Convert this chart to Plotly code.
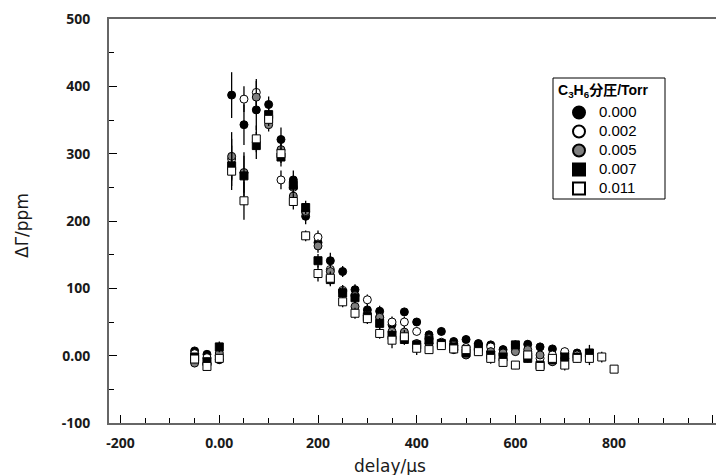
import plotly.graph_objects as go

# ---- data ----
delay_a = [-50, -25, 0, 25, 50, 75, 100, 125, 150, 175, 200, 225, 250, 275, 300, 325,
           350, 375, 400, 425, 450, 475, 500, 525, 550, 575, 600, 625, 650, 675, 700, 725]
delay_sq1 = delay_a + [750]
delay_sq2 = delay_a + [750, 775, 800]

p000 = [7, 2, -6, 387, 343, 365, 373, 321, 261, 207, 168, 141, 125, 98, 68, 66,
        46, 65, 50, 31, 36, 21, 24, 18, 16, 9, 16, 17, 13, 10, 4, 4]
e000 = [6, 6, 6, 34, 30, 30, 12, 18, 14, 12, 10, 12, 8, 8, 8, 8,
        8, 6, 6, 6, 6, 6, 6, 6, 6, 6, 6, 6, 6, 6, 6, 6]
p002 = [3, -3, 0, 292, 381, 391, 350, 261, 250, 213, 176, 128, 97, 89, 83, 57,
        50, 50, 36, 25, 20, 15, 12, 10, 13, 1, 9, 3, -4, 1, 6, 1]
e002 = [6, 6, 6, 30, 19, 20, 10, 14, 12, 10, 10, 10, 8, 8, 8, 8,
        8, 8, 6, 6, 6, 6, 6, 6, 6, 6, 6, 6, 6, 6, 6, 6]
p005 = [-11, -12, 4, 296, 272, 384, 343, 306, 237, 214, 163, 125, 95, 73, 60, 57,
        36, 35, 18, 18, 18, 9, 1, 9, 6, 4, 6, 9, 1, -9, -4, -2]
e005 = [6, 6, 8, 36, 30, 24, 10, 14, 14, 10, 10, 10, 8, 8, 8, 8,
        8, 8, 6, 6, 6, 6, 6, 6, 6, 6, 6, 6, 6, 6, 6, 6]
p007 = [-2, -9, 13, 282, 267, 312, 358, 295, 253, 220, 141, 113, 93, 86, 58, 48,
        30, 24, 16, 23, 18, 13, 4, 13, 1, -2, 16, -4, -14, -6, -2, -2, 4]
e007 = [6, 6, 8, 30, 30, 20, 10, 14, 12, 10, 10, 10, 8, 8, 8, 8,
        8, 8, 6, 6, 6, 6, 6, 6, 6, 6, 6, 6, 6, 6, 6, 6, 12]
p011 = [-5, -16, -4, 274, 230, 322, 351, 300, 229, 178, 122, 115, 80, 63, 55, 33,
        23, 28, 11, 9, 15, 10, 9, 6, -4, -10, -14, 1, -16, -4, -14, -4, -4, -2, -20]
e011 = [6, 6, 6, 28, 28, 20, 10, 14, 12, 8, 12, 10, 8, 8, 8, 8,
        12, 10, 10, 6, 6, 6, 6, 6, 8, 6, 6, 6, 6, 6, 8, 6, 10, 8, 4]

series_names = ["0.000", "0.002", "0.005", "0.007", "0.011"]
legend_title = "C<sub>3</sub>H<sub>6</sub>分圧/Torr"

x_tickvals = [-200, 0, 200, 400, 600, 800, 1000]
x_ticktext = ["-200", "0.00", "200", "400", "600", "800", "1000"]
y_tickvals = [-100, 0, 100, 200, 300, 400, 500]
y_ticktext = ["-100", "0.00", "100", "200", "300", "400", "500"]

# ---- layout helpers (screen pixels of the plot area; page body has an 8px margin) ----
PL, PR, PT, PB = 109, 724, 19, 423
def px(xp):
    return (xp - PL) / (PR - PL)
def py(yp):
    return (PB - yp) / (PB - PT)

styles = [
    dict(symbol="circle", color="black", line=dict(color="black", width=1)),
    dict(symbol="circle", color="white", line=dict(color="black", width=1)),
    dict(symbol="circle", color="#808080", line=dict(color="black", width=1)),
    dict(symbol="square", color="black", line=dict(color="black", width=1)),
    dict(symbol="square", color="white", line=dict(color="black", width=1)),
]
xs = [delay_a, delay_a, delay_a, delay_sq1, delay_sq2]
ys = [p000, p002, p005, p007, p011]
es = [e000, e002, e005, e007, e011]

fig = go.Figure()
for name, x, y, e, st in zip(series_names, xs, ys, es, styles):
    fig.add_trace(go.Scatter(
        x=x, y=y, mode="markers",
        name='<span style="font-size:15px">' + name + "</span>",
        marker=dict(size=8, **st),
        error_y=dict(type="data", array=e, visible=True, color="black",
                     thickness=1.3, width=0),
    ))

tickfont = dict(family="Noto Sans", size=14, color="#1a1a1a", weight="bold")

fig.update_layout(
    width=716, height=467,
    margin=dict(l=PL - 8, r=0, t=PT - 8, b=467 - (PB - 8)),
    paper_bgcolor="white", plot_bgcolor="white",
    showlegend=True,
    legend=dict(
        x=px(559), y=py(98), xanchor="left", yanchor="top",
        bgcolor="rgba(0,0,0,0)", borderwidth=0,
        font=dict(family="Liberation Sans", size=12, color="black"),
        itemsizing="constant", tracegroupgap=0,
    ),
    xaxis=dict(
        range=[-223.5, 1022.7], showgrid=False, zeroline=False,
        showline=True, linecolor="#666666", linewidth=2, mirror=True,
        ticks="inside", ticklen=8, tickwidth=1.3, tickcolor="black",
        tickvals=x_tickvals, ticktext=x_ticktext, tickfont=tickfont,
        ticklabelstandoff=6,
        minor=dict(dtick=50, tick0=0, ticks="inside", ticklen=5, tickwidth=1.2,
                   tickcolor="black", showgrid=False),
    ),
    yaxis=dict(
        range=[-100, 500], showgrid=False, zeroline=False,
        showline=True, linecolor="#666666", linewidth=2,
        ticks="inside", ticklen=8, tickwidth=1.3, tickcolor="black",
        tickvals=y_tickvals, ticktext=y_ticktext, tickfont=tickfont,
        ticklabelstandoff=14,
        minor=dict(dtick=50, tick0=0, ticks="inside", ticklen=5, tickwidth=1.2,
                   tickcolor="black", showgrid=False),
    ),
    shapes=[
        dict(type="rect", xref="paper", yref="paper",
             x0=px(553), x1=px(665), y0=py(199), y1=py(78),
             line=dict(color="black", width=1), fillcolor="white", layer="above"),
    ],
    annotations=[
        dict(text="<b>" + legend_title + "</b>", xref="paper", yref="paper",
             x=px(556), y=py(91), xanchor="left", yanchor="middle", showarrow=False,
             font=dict(family="Liberation Sans, Noto Sans CJK JP", size=14, color="black")),
        dict(text="delay/μs", xref="paper", yref="paper",
             x=px(390), y=py(466), xanchor="center", yanchor="middle",
             showarrow=False, font=dict(family="DejaVu Sans", size=17, color="#1a1a1a")),
        dict(text="ΔΓ/ppm", xref="paper", yref="paper", textangle=-90,
             x=px(22), y=py(226), xanchor="center", yanchor="middle",
             showarrow=False, font=dict(family="DejaVu Sans", size=17, color="#1a1a1a")),
    ],
)

fig.write_html("out.html")
